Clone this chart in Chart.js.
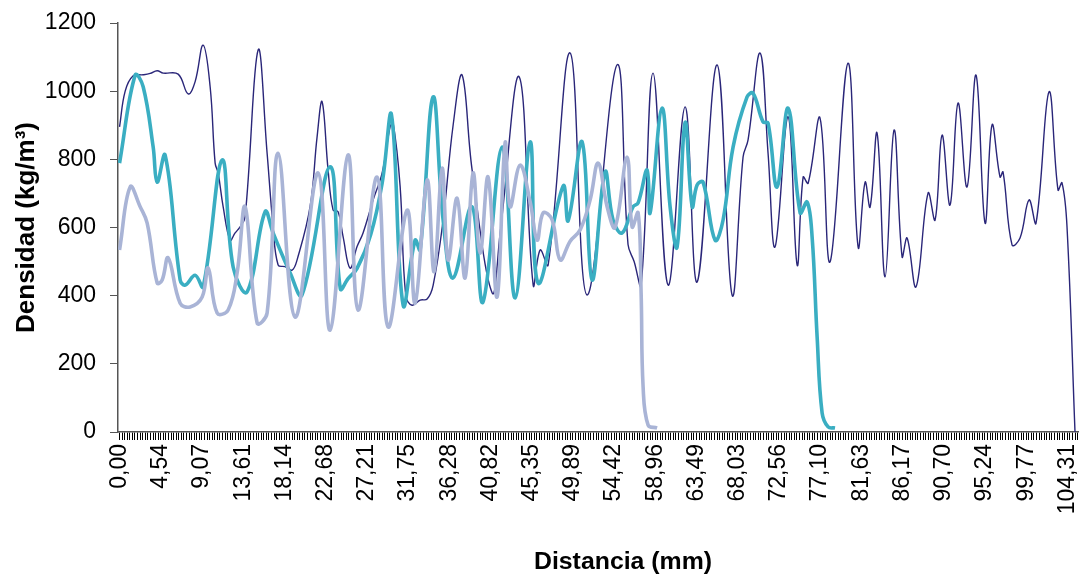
<!DOCTYPE html>
<html lang="es">
<head>
<meta charset="utf-8">
<title>Perfil de densidad</title>
<script src="https://cdn.jsdelivr.net/npm/chart.js@4.4.1/dist/chart.umd.min.js"></script>
<style>
  html, body { margin: 0; padding: 0; background: #fff; }
  #wrap { width: 1079px; height: 575px; }
</style>
</head>
<body>
<div id="wrap"><canvas id="perfil" width="1079" height="575"></canvas></div>
<script>
// Density profiles across the board thickness (distance in mm, density in kg/m3)

const xTickLabels = ['0,00', '4,54', '9,07', '13,61', '18,14', '22,68', '27,21', '31,75',
  '36,28', '40,82', '45,35', '49,89', '54,42', '58,96', '63,49', '68,03', '72,56', '77,10',
  '81,63', '86,17', '90,70', '95,24', '99,77', '104,31'];
const yTickValues = [0, 200, 400, 600, 800, 1000, 1200];

// thin dark profile
const distNavy = [0, 0.62, 1.50, 2.60, 3.37, 4.14, 4.80, 6.45, 7.55, 8.32, 9.20, 9.97, 10.52,
  10.85, 11.40, 12.17, 12.72, 13.27, 13.82, 15.25, 16.24, 16.90, 17.45, 18.22, 18.99, 19.54,
  20.97, 21.74, 22.29, 22.95, 23.50, 24.05, 24.60, 25.37, 26.14, 26.80, 27.91, 28.90, 29.78,
  30.11, 30.88, 31.50, 32.20, 33.08, 33.85, 34.51, 35.61, 36.71, 37.70, 38.80, 41.01, 41.89,
  43.98, 45.52, 46.29, 47.17, 49.59, 51.45, 54.75, 55.96, 56.63, 57.40, 58.71, 60.37, 62.24,
  63.56, 65.76, 67.41, 68.62, 69.17, 70.49, 71.37, 72.14, 73.58, 74.57, 75.23, 75.78, 77.09,
  78.19, 80.17, 81.28, 82.05, 82.60, 83.37, 84.25, 85.24, 86.12, 86.67, 87.66, 88.98, 89.75,
  90.52, 91.40, 92.28, 93.27, 94.26, 95.25, 96.02, 96.90, 97.23, 98.22, 99.10, 100.09, 100.86,
  102.29, 103.28, 103.72, 104.27, 105.15];
const densNavy = [895, 1000, 1045, 1048, 1052, 1060, 1053, 1050, 992, 1028, 1135, 1013, 789,
  760, 661, 563, 584, 602, 632, 1121, 818, 602, 490, 485, 475, 505,
  661, 866, 969, 769, 651, 646, 573, 481, 544, 584, 681, 760, 896,
  906, 720, 400, 372, 387, 390, 430, 622, 900, 1047, 769, 408, 584,
  1042, 431, 534, 490, 1112, 402, 1077, 550, 500, 430, 1053, 431, 954,
  440, 1077, 402, 807, 857, 1112, 818, 543, 925, 490, 748, 730, 921,
  499, 1082, 543, 733, 660, 877, 455, 886, 514, 569, 426, 701, 622,
  871, 666, 965, 719, 1047, 613, 901, 748, 763, 549, 569, 681, 613,
  998, 710, 731, 602, 0];

// thick teal profile
const distTeal = [0, 1.72, 2.60, 3.70, 4.14, 5.02, 6.67, 7.22, 8.32, 9.20, 11.29, 12.50, 14.04,
  16.02, 16.90, 18.77, 20.08, 23.17, 24.30, 25.15, 26.14, 27.65, 28.90, 29.93, 31.21, 32.53,
  33.08, 34.51, 35.61, 36.71, 38.77, 39.99, 42.11, 43.54, 45.19, 46.07, 48.82, 49.37, 50.91,
  52.00, 53.43, 54.31, 55.30, 56.52, 57.07, 58.06, 58.39, 59.70, 60.59, 61.36, 62.24, 63.02,
  63.56, 64.22, 65.54, 66.42, 67.52, 69.06, 69.72, 70.82, 71.37, 72.36, 73.58, 74.90, 75.67,
  76.22, 76.77, 77.32, 77.98, 78.74];
const densTeal = [789, 1047, 1013, 836, 733, 812, 446, 431, 460, 426, 798, 484, 411,
  646, 584, 467, 402, 778, 420, 450, 480, 580, 730, 930, 372, 563,
  534, 983, 622, 452, 661, 381, 836, 393, 851, 437, 722, 620, 851,
  446, 763, 622, 584, 661, 672, 769, 643, 950, 661, 543, 908, 661,
  725, 733, 563, 622, 836, 983, 994, 910, 906, 719, 950, 643, 675,
  572, 279, 56, 15, 12];

// thick light profile
const distGray = [0, 1.17, 2.27, 3.04, 4.14, 4.69, 5.35, 6.67, 7.77, 9.09, 9.75, 10.74, 11.95,
  12.94, 13.82, 15.14, 16.24, 17.45, 19.32, 21.85, 23.17, 25.15, 26.25, 28.34, 29.56, 31.65,
  32.53, 33.85, 34.62, 35.50, 36.16, 37.15, 38.03, 38.91, 39.68, 40.56, 41.55, 42.43, 42.98,
  44.08, 45.19, 45.96, 46.62, 47.61, 48.49, 49.59, 50.69, 51.79, 52.67, 53.66, 54.53, 55.85,
  56.41, 57.07, 57.40, 57.62, 58.17, 59.16];
const densGray = [534, 719, 661, 613, 437, 446, 511, 378, 367, 396, 481, 349, 358,
  467, 661, 320, 349, 818, 337, 760, 299, 813, 358, 748, 308, 651,
  378, 739, 470, 774, 505, 686, 452, 760, 525, 748, 396, 848, 661,
  783, 675, 563, 643, 622, 505, 560, 593, 681, 789, 661, 600, 807,
  602, 643, 408, 132, 20, 12];

const FONT = '"Liberation Sans", Arial, sans-serif';
const LABEL_STEP = 104.31 / 23;   // mm between labelled ticks
const MINOR_PER_LABEL = 16;       // tick marks per labelled interval

function toPoints(xs, ys) {
    return xs.map((x, i) => ({ x: x, y: ys[i] }));
}

// axis title under the category labels, a little wider than the plain font
const xTitlePlugin = {
    id: 'xTitle',
    afterDraw(chart) {
        const ctx = chart.ctx;
        ctx.save();
        ctx.font = 'bold 23px ' + FONT;
        ctx.fillStyle = '#000';
        ctx.textAlign = 'center';
        ctx.textBaseline = 'alphabetic';
        ctx.translate(623, 569);
        ctx.scale(1.08, 1);
        ctx.fillText('Distancia (mm)', 0, 0);
        ctx.restore();
    }
};

const lineStyle = {
    pointRadius: 0,
    pointHoverRadius: 0,
    fill: false,
    tension: 0.4
};

new Chart(document.getElementById('perfil').getContext('2d'), {
    type: 'line',
    data: {
        datasets: [
            Object.assign({
                label: 'Perfil 3',
                data: toPoints(distGray, densGray),
                borderColor: '#a9b4d6',
                borderWidth: 3.6,
                order: 1
            }, lineStyle),
            Object.assign({
                label: 'Perfil 2',
                data: toPoints(distTeal, densTeal),
                borderColor: '#3aaec2',
                borderWidth: 3.6,
                order: 2
            }, lineStyle),
            Object.assign({
                label: 'Perfil 1',
                data: toPoints(distNavy, densNavy),
                borderColor: '#2a2679',
                borderWidth: 1.4,
                order: 3
            }, lineStyle)
        ]
    },
    options: {
        responsive: false,
        animation: false,
        events: [],
        layout: { padding: { top: 23, right: 0, bottom: 0, left: 0 } },
        plugins: {
            legend: { display: false },
            tooltip: { enabled: false }
        },
        scales: {
            x: {
                type: 'linear',
                min: -0.17,
                max: 105.59,
                afterBuildTicks(scale) {
                    const step = LABEL_STEP / MINOR_PER_LABEL;
                    const ticks = [];
                    for (let k = 0; k * step <= scale.max; k++) {
                        ticks.push({ value: k * step });
                    }
                    scale.ticks = ticks;
                },
                afterFit(scale) {
                    scale.height = 143;
                    scale.paddingLeft = 0;
                    scale.paddingRight = 0;
                },
                ticks: {
                    autoSkip: false,
                    minRotation: 90,
                    maxRotation: 90,
                    padding: 4,
                    color: '#000',
                    font: { family: FONT, size: 23 },
                    callback: (value, index) =>
                        index % MINOR_PER_LABEL === 0 ? xTickLabels[index / MINOR_PER_LABEL] : ''
                },
                grid: {
                    drawOnChartArea: false,
                    drawTicks: true,
                    tickLength: 8,
                    color: '#000',
                    lineWidth: 1
                },
                border: { display: true, color: '#555', width: 1.5 }
            },
            y: {
                min: 0,
                max: 1200,
                afterBuildTicks(scale) {
                    scale.ticks = yTickValues.map(v => ({ value: v }));
                },
                afterFit(scale) {
                    scale.width = 118;
                    scale.paddingTop = 0;
                    scale.paddingBottom = 0;
                },
                ticks: {
                    padding: 14,
                    color: '#000',
                    font: { family: FONT, size: 23 },
                    callback: value => String(value)
                },
                grid: {
                    drawOnChartArea: false,
                    tickLength: 8,
                    color: '#555'
                },
                border: { display: true, color: '#555', width: 1.5 },
                title: {
                    display: true,
                    text: 'Densidad (kg/m³)',
                    color: '#000',
                    font: { family: FONT, size: 26, weight: 'bold' },
                    padding: { top: 11, bottom: 0 }
                }
            }
        }
    },
    plugins: [xTitlePlugin]
});
</script>
</body>
</html>
